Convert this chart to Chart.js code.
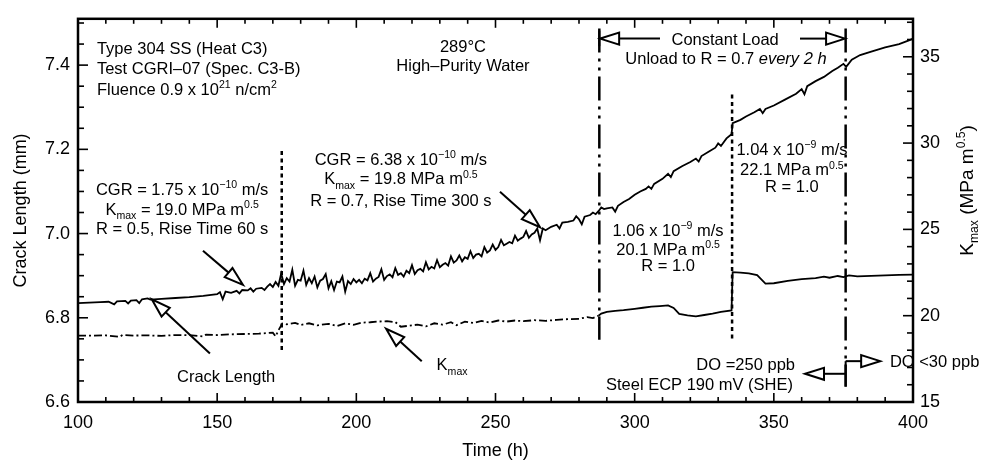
<!DOCTYPE html>
<html>
<head>
<meta charset="utf-8">
<script src="https://cdn.jsdelivr.net/npm/chart.js@4.4.1/dist/chart.umd.min.js"></script>
<style>
  html, body { margin: 0; padding: 0; background: #fff; }
  #wrap { width: 983px; height: 465px; position: relative; }
</style>
</head>
<body>
<div id="wrap"><canvas id="crackChart"></canvas></div>
<script>
// crack length (mm) vs time (h)
var crackTime = [100,104,108,111,113,114,117,118,119,121,122,123,125,126,130,135,140,145,150,151,152,153,155,157,158,159,161,162,163,164,166,167,168,169,170,171,172,
  173,174,175,176,177,178,179,180,181,182,183,184,185,186,187,188,189,190,191,192,193,194,195,196,197,198,199,200,
  201,202,203,204,205,206,207,208,209,210,211,212,213,214,215,216,217,218,219,220,221,222,223,224,225,226,227,228,229,230,
  231,232,233,234,235,236,237,238,239,240,241,242,243,244,245,246,247,248,249,250,251,252,253,254,255,256,257,258,259,260,
  261,262,263,264,265,266,267,268,270,272,273,274,276,278,279,280,281,282,284,285,286,287,288,289,290,292,293,294,296,298,300,
  302,304,305,306,307,310,312,313,314,317,320,322,323,324,327,329,330,331,333,334.8,335.2,338,340,343,345,346,347,350,354,358,360,361,362,
  365,368,371,373,375,376,378,381,385,390,395,399,400];
var crackMm = [6.835,6.836,6.837,6.838,6.832,6.839,6.840,6.834,6.841,6.842,6.835,6.844,6.846,6.843,6.845,6.847,6.849,6.852,6.856,6.861,6.844,6.862,6.859,6.864,6.858,6.866,6.865,6.870,6.862,6.869,6.871,6.866,6.874,6.880,6.873,6.885,6.876,
  6.905,6.880,6.894,6.886,6.914,6.876,6.890,6.888,6.912,6.878,6.894,6.882,6.898,6.872,6.888,6.892,6.904,6.870,6.887,6.866,6.886,6.884,6.898,6.862,6.887,6.880,6.892,6.884,
  6.890,6.882,6.893,6.889,6.906,6.886,6.893,6.897,6.915,6.890,6.899,6.903,6.896,6.918,6.902,6.906,6.898,6.912,6.906,6.925,6.904,6.913,6.916,6.910,6.932,6.915,6.921,6.917,6.937,6.920,
  6.926,6.930,6.924,6.946,6.931,6.936,6.948,6.934,6.944,6.940,6.958,6.942,6.950,6.952,6.946,6.968,6.955,6.960,6.974,6.961,6.968,6.985,6.972,6.976,6.980,6.977,6.995,6.983,6.988,6.992,
  7.006,6.990,6.998,7.002,7.012,6.984,7.012,7.008,7.016,7.021,7.012,7.026,7.028,7.031,7.041,7.034,7.022,7.040,7.044,7.050,7.046,7.053,7.062,7.058,7.060,7.062,7.052,7.066,7.075,7.082,7.092,
  7.100,7.106,7.112,7.106,7.118,7.130,7.142,7.134,7.148,7.160,7.170,7.178,7.171,7.184,7.196,7.204,7.214,7.208,7.226,7.236,7.262,7.270,7.278,7.288,7.296,7.286,7.296,7.304,7.318,7.332,7.343,7.331,7.350,
  7.362,7.372,7.386,7.394,7.403,7.396,7.413,7.424,7.432,7.442,7.450,7.460,7.463];

// K_max (MPa m^0.5) vs time (h)
var kmaxTime = [100,105,110,115,116,120,125,130,135,140,145,146,150,155,160,165,170,171,172,173.4,175,178,180,183,186,190,193,196,199,202,205,208,211,214,216,219,222,225,228,231,234,236,239,242,245,248,251,254,257,260,264,268,272,276,280,283,285,287,288,290,293,296,300,303,306,309,312,314,316,319,322,325,328,331,334.8,335.2,338,341,344,347,350,355,360,365,368,370,373,375,377,380,385,390,395,400];
var kmaxVal = [18.85,18.84,18.86,18.78,18.88,18.85,18.86,18.83,18.88,18.87,18.80,18.90,18.88,18.92,18.94,18.96,19.02,18.80,19.15,19.55,19.50,19.58,19.46,19.56,19.44,19.53,19.40,19.56,19.47,19.60,19.62,19.66,19.68,19.63,19.36,19.42,19.48,19.38,19.56,19.48,19.62,19.45,19.66,19.58,19.70,19.60,19.72,19.66,19.72,19.68,19.74,19.70,19.76,19.80,19.82,19.92,19.86,20.00,20.12,20.22,20.28,20.32,20.40,20.46,20.52,20.56,20.60,20.45,20.10,20.02,19.96,20.04,20.12,20.22,20.30,22.52,22.50,22.45,22.35,21.86,21.88,22.02,22.12,22.18,22.26,22.20,22.30,22.24,22.33,22.28,22.31,22.34,22.36,22.38];

// vertical event markers (h) and their extent on the crack-length axis
var markerTime = [173.2, 287.3, 335.0, 375.8];
var markerTop = [7.196, 7.487, 7.330, 7.487];
var markerBottom = [6.716, 6.748, 6.743, 6.636];
var markerDash = [[4, 3.5], [24, 6, 3, 6, 3, 6], [4, 3.5], [24, 6, 3, 6, 3, 6]];

// tick labels
var xTickValues = [100, 150, 200, 250, 300, 350, 400];
var yTickValues = [6.6, 6.8, 7.0, 7.2, 7.4];
var kTickValues = [15, 20, 25, 30, 35];

var FONT = '"Liberation Sans", Arial, sans-serif';
Chart.defaults.font.family = FONT;
Chart.defaults.color = '#000';

// text notes, placed in data units (time, crack length)
var notes = [
  { t: 106.8, v: 7.440, a: 'left', p: [['Type 304 SS (Heat C3)']] },
  { t: 106.8, v: 7.394, a: 'left', p: [['Test CGRI\u201307 (Spec. C3-B)']] },
  { t: 106.8, v: 7.343, a: 'left', p: [['Fluence 0.9 x 10'], ['21', 'sup'], [' n/cm'], ['2', 'sup']] },
  { t: 238.3, v: 7.445, a: 'center', p: [['289\u00b0C']] },
  { t: 238.3, v: 7.401, a: 'center', p: [['High\u2013Purity Water']] },
  { t: 332.5, v: 7.463, a: 'center', p: [['Constant Load']] },
  { t: 332.8, v: 7.417, a: 'center', p: [['Unload to R = 0.7 '], ['every 2 h', 'it']] },
  { t: 137.4, v: 7.106, a: 'center', p: [['CGR = 1.75 x 10'], ['\u221210', 'sup'], [' m/s']] },
  { t: 137.4, v: 7.059, a: 'center', p: [['K'], ['max', 'sub'], [' = 19.0 MPa m'], ['0.5', 'sup']] },
  { t: 137.4, v: 7.013, a: 'center', p: [['R = 0.5, Rise Time 60 s']] },
  { t: 216.0, v: 7.178, a: 'center', p: [['CGR = 6.38 x 10'], ['\u221210', 'sup'], [' m/s']] },
  { t: 216.0, v: 7.131, a: 'center', p: [['K'], ['max', 'sub'], [' = 19.8 MPa m'], ['0.5', 'sup']] },
  { t: 216.0, v: 7.080, a: 'center', p: [['R = 0.7, Rise Time 300 s']] },
  { t: 312.0, v: 7.009, a: 'center', p: [['1.06 x 10'], ['\u22129', 'sup'], [' m/s']] },
  { t: 312.0, v: 6.964, a: 'center', p: [['20.1 MPa m'], ['0.5', 'sup']] },
  { t: 312.0, v: 6.925, a: 'center', p: [['R = 1.0']] },
  { t: 356.5, v: 7.201, a: 'center', p: [['1.04 x 10'], ['\u22129', 'sup'], [' m/s']] },
  { t: 356.5, v: 7.152, a: 'center', p: [['22.1 MPa m'], ['0.5', 'sup']] },
  { t: 356.5, v: 7.112, a: 'center', p: [['R = 1.0']] },
  { t: 153.2, v: 6.662, a: 'center', p: [['Crack Length']] },
  { t: 234.4, v: 6.690, a: 'center', p: [['K'], ['max', 'sub']] },
  { t: 357.6, v: 6.690, a: 'right', p: [['DO =250 ppb']] },
  { t: 356.9, v: 6.643, a: 'right', p: [['Steel ECP 190 mV (SHE)']] },
  { t: 391.7, v: 6.697, a: 'left', p: [['DO <30 ppb']] }
];

// arrows: tail -> tip, data units
var arrows = [
  { from: [144.9, 6.959], to: [159.3, 6.878] },
  { from: [147.4, 6.715], to: [126.5, 6.844] },
  { from: [251.6, 7.099], to: [266.0, 7.015] },
  { from: [223.5, 6.697], to: [210.7, 6.774] },
  { from: [309.1, 7.463], to: [287.6, 7.463] },
  { from: [359.4, 7.463], to: [375.6, 7.463] },
  { from: [375.8, 6.697], to: [388.2, 6.697] },
  { from: [375.8, 6.667], to: [361.2, 6.667] }
];
var bars = [
  { t: 287.3, v1: 7.482, v2: 7.445 },
  { t: 375.8, v1: 6.697, v2: 6.637 }
];

function drawRich(ctx, parts, x, y, align, size) {
  var fontOf = function (p) {
    var s = (p[1] === 'sup' || p[1] === 'sub') ? size * 0.64 : size;
    return (p[1] === 'it' ? 'italic ' : '') + s + 'px ' + FONT;
  };
  var w = 0;
  parts.forEach(function (p) { ctx.font = fontOf(p); w += ctx.measureText(p[0]).width; });
  var cx = align === 'center' ? x - w / 2 : (align === 'right' ? x - w : x);
  var base = y + size * 0.36;
  ctx.textAlign = 'left';
  ctx.textBaseline = 'alphabetic';
  parts.forEach(function (p) {
    ctx.font = fontOf(p);
    var dy = p[1] === 'sup' ? -size * 0.4 : (p[1] === 'sub' ? size * 0.28 : 0);
    ctx.fillText(p[0], cx, base + dy);
    cx += ctx.measureText(p[0]).width;
  });
}

function drawArrow(ctx, x1, y1, x2, y2) {
  var hl = 19, hw = 6;
  var ang = Math.atan2(y2 - y1, x2 - x1);
  var bx = x2 - hl * Math.cos(ang), by = y2 - hl * Math.sin(ang);
  ctx.beginPath(); ctx.moveTo(x1, y1); ctx.lineTo(bx, by); ctx.stroke();
  ctx.beginPath();
  ctx.moveTo(x2, y2);
  ctx.lineTo(bx + hw * Math.sin(ang), by - hw * Math.cos(ang));
  ctx.lineTo(bx - hw * Math.sin(ang), by + hw * Math.cos(ang));
  ctx.closePath();
  ctx.fillStyle = '#fff'; ctx.fill(); ctx.stroke();
}

// frame with inward ticks on all four sides
var frameTicks = {
  id: 'frameTicks',
  afterDatasetsDraw: function (chart) {
    var ctx = chart.ctx, a = chart.chartArea, sc = chart.scales;
    ctx.save();
    ctx.strokeStyle = '#000';
    ctx.lineWidth = 1.6;
    var seg = function (x1, y1, x2, y2) { ctx.beginPath(); ctx.moveTo(x1, y1); ctx.lineTo(x2, y2); ctx.stroke(); };
    for (var t = 100; t <= 400; t += 10) {
      var px = sc.x.getPixelForValue(t);
      var len = t % 50 === 0 ? 9 : 5;
      seg(px, a.bottom, px, a.bottom - len);
      seg(px, a.top, px, a.top + len);
    }
    for (var i = 0; i <= 18; i++) {
      var py = sc.y.getPixelForValue(6.6 + i * 0.05);
      if (py < a.top) continue;
      seg(a.left, py, a.left + (i % 4 === 0 ? 10 : 6), py);
    }
    for (var k = 15; k <= 37; k++) {
      var pk = sc.y1.getPixelForValue(k);
      seg(a.right, pk, a.right - (k % 5 === 0 ? 10 : 6), pk);
    }
    ctx.lineWidth = 2.5;
    ctx.strokeRect(a.left, a.top, a.right - a.left, a.bottom - a.top);
    ctx.restore();
  }
};

var notesPlugin = {
  id: 'notesPlugin',
  afterDraw: function (chart) {
    var ctx = chart.ctx, sc = chart.scales, a = chart.chartArea;
    ctx.save();
    ctx.fillStyle = '#000';
    notes.forEach(function (n) {
      drawRich(ctx, n.p, sc.x.getPixelForValue(n.t), sc.y.getPixelForValue(n.v), n.a, 16.5);
    });
    ctx.strokeStyle = '#000';
    ctx.lineWidth = 2;
    arrows.forEach(function (r) {
      drawArrow(ctx, sc.x.getPixelForValue(r.from[0]), sc.y.getPixelForValue(r.from[1]),
        sc.x.getPixelForValue(r.to[0]), sc.y.getPixelForValue(r.to[1]));
    });
    bars.forEach(function (b) {
      var bx = sc.x.getPixelForValue(b.t);
      ctx.beginPath();
      ctx.moveTo(bx, sc.y.getPixelForValue(b.v1));
      ctx.lineTo(bx, sc.y.getPixelForValue(b.v2));
      ctx.stroke();
    });
    // right axis title, rotated
    ctx.save();
    ctx.translate(a.right + 53, (a.top + a.bottom) / 2 - 20);
    ctx.rotate(-Math.PI / 2);
    ctx.fillStyle = '#000';
    drawRich(ctx, [['K'], ['max', 'sub'], [' (MPa m'], ['0.5', 'sup'], [')']], 0, 0, 'center', 19);
    ctx.restore();
    ctx.restore();
  }
};

var datasets = [
  {
    label: 'Crack Length',
    data: crackTime.map(function (t, i) { return { x: t, y: crackMm[i] }; }),
    yAxisID: 'y',
    borderColor: '#000',
    borderWidth: 1.8
  },
  {
    label: 'Kmax',
    data: kmaxTime.map(function (t, i) { return { x: t, y: kmaxVal[i] }; }),
    yAxisID: 'y1',
    borderColor: '#000',
    borderWidth: 1.8,
    segment: { borderDash: function (c) { return c.p1.parsed.x <= 287 ? [8, 3, 2, 3] : undefined; } }
  }
];
markerTime.forEach(function (t, i) {
  datasets.push({
    label: 'marker' + i,
    data: [{ x: t, y: markerTop[i] }, { x: t, y: markerBottom[i] }],
    yAxisID: 'y',
    borderColor: '#000',
    borderWidth: 2.5,
    borderDash: markerDash[i]
  });
});

var chart = new Chart(document.getElementById('crackChart'), {
  type: 'line',
  data: { datasets: datasets },
  options: {
    responsive: true,
    maintainAspectRatio: false,
    animation: false,
    devicePixelRatio: 1,
    layout: { padding: { top: 10, left: 0, right: 0, bottom: 0 } },
    plugins: { legend: { display: false }, tooltip: { enabled: false } },
    elements: { point: { radius: 0 }, line: { tension: 0 } },
    scales: {
      x: {
        type: 'linear', min: 100, max: 400,
        grid: { display: false, drawTicks: false }, border: { display: false },
        afterBuildTicks: function (s) { s.ticks = xTickValues.map(function (v) { return { value: v }; }); },
        ticks: { font: { size: 18 }, padding: 10, maxRotation: 0, autoSkip: false },
        title: { display: true, text: 'Time (h)', font: { size: 18 }, padding: { top: 0, bottom: 3 } },
        afterFit: function (s) { s.height = 63; }
      },
      y: {
        type: 'linear', position: 'left', min: 6.6, max: 7.51,
        grid: { display: false, drawTicks: false }, border: { display: false },
        afterBuildTicks: function (s) { s.ticks = yTickValues.map(function (v) { return { value: v }; }); },
        ticks: { font: { size: 18 }, padding: 8, callback: function (v) { return v.toFixed(1); } },
        title: { display: true, text: 'Crack Length (mm)', font: { size: 18 }, padding: { top: 10, bottom: 0 } },
        afterFit: function (s) { s.width = 78; }
      },
      y1: {
        type: 'linear', position: 'right', min: 15, max: 37.2,
        grid: { display: false, drawTicks: false }, border: { display: false },
        afterBuildTicks: function (s) { s.ticks = kTickValues.map(function (v) { return { value: v }; }); },
        ticks: { font: { size: 18 }, padding: 7 },
        afterFit: function (s) { s.width = 70; }
      }
    }
  },
  plugins: [frameTicks, notesPlugin]
});
</script>
</body>
</html>
